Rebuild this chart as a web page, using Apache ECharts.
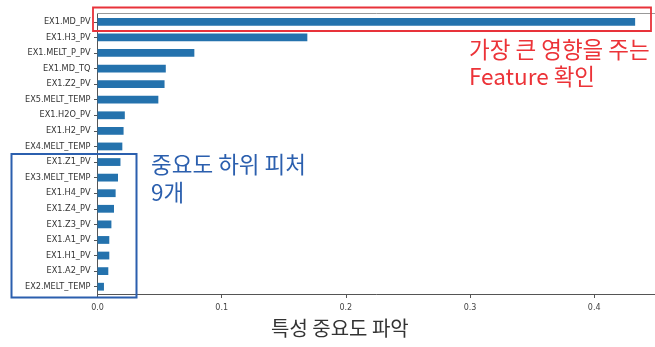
<!DOCTYPE html>
<html>
<head>
<meta charset="utf-8">
<script src="https://cdn.jsdelivr.net/npm/echarts@6/dist/echarts.min.js"></script>
<style>
html,body{margin:0;padding:0;background:#fff;}
#c{width:655px;height:347px;}
</style>
</head>
<body>
<div id="c"></div>
<script>
var features = ["EX1.MD_PV","EX1.H3_PV","EX1.MELT_P_PV","EX1.MD_TQ","EX1.Z2_PV","EX5.MELT_TEMP","EX1.H2O_PV","EX1.H2_PV","EX4.MELT_TEMP","EX1.Z1_PV","EX3.MELT_TEMP","EX1.H4_PV","EX1.Z4_PV","EX1.Z3_PV","EX1.A1_PV","EX1.H1_PV","EX1.A2_PV","EX2.MELT_TEMP"];
var importance = [0.433,0.169,0.078,0.055,0.054,0.049,0.022,0.021,0.020,0.0185,0.0165,0.0146,0.0133,0.0112,0.0095,0.0095,0.0087,0.0052];
var xTicks = [0.0,0.1,0.2,0.3,0.4];
var titleText = "특성 중요도 파악";
var noteTop = ["가장 큰 영향을 주는","Feature 확인"];
var noteLow = ["중요도 하위 피처","9개"];

var chart = echarts.init(document.getElementById('c'), null, {renderer:'canvas'});
var kfont = '"Noto Sans CJK KR", "Noto Sans", sans-serif';
chart.setOption({
  animation:false,
  backgroundColor:'#ffffff',
  grid:{left:97.5, top:14, right:0, bottom:52.5, containLabel:false},
  xAxis:{
    type:'value', min:0, max:0.449, interval:0.1,
    axisLine:{show:true, lineStyle:{color:'#555', width:1}},
    axisTick:{show:true, length:3.5, lineStyle:{color:'#555'}},
    splitLine:{show:false},
    axisLabel:{fontFamily:'DejaVu Sans', fontSize:8, color:'#444', margin:9,
      formatter:function(v){ return xTicks.indexOf(Math.round(v*10)/10)>=0 ? v.toFixed(1) : ''; },
      showMaxLabel:false}
  },
  yAxis:{
    type:'category', data:features, inverse:true,
    axisLine:{show:true, lineStyle:{color:'#555', width:1}},
    axisTick:{show:true, alignWithLabel:true, length:3.5, lineStyle:{color:'#555'}},
    axisLabel:{fontFamily:'DejaVu Sans', fontSize:8.2, color:'#333', margin:7}
  },
  series:[{
    type:'bar', data:importance, barWidth:'50%',
    itemStyle:{color:'#2472ad'}
  }],
  graphic:[
    {type:'line', shape:{x1:97.5,y1:13.5,x2:655,y2:13.5}, style:{stroke:'#999', lineWidth:1}, silent:true},
    {type:'rect', shape:{x:93,y:7.5,width:558,height:23.5}, style:{fill:'none', stroke:'#e8323a', lineWidth:1.8}, z:100},
    {type:'rect', shape:{x:11.5,y:154,width:125,height:143.5}, style:{fill:'none', stroke:'#2b5fae', lineWidth:2}, z:100},
    {type:'text', left:469, top:36, style:{text:noteTop.join('\n'), fill:'#ec3338', font:'22.5px '+kfont, lineHeight:27}, z:100},
    {type:'text', left:151, top:150, style:{text:noteLow.join('\n'), fill:'#2b5fae', font:'22.5px '+kfont, lineHeight:28}, z:100},
    {type:'text', left:271, top:318, style:{text:titleText, fill:'#333', font:'20px '+kfont}, z:100}
  ]
});
</script>
</body>
</html>
